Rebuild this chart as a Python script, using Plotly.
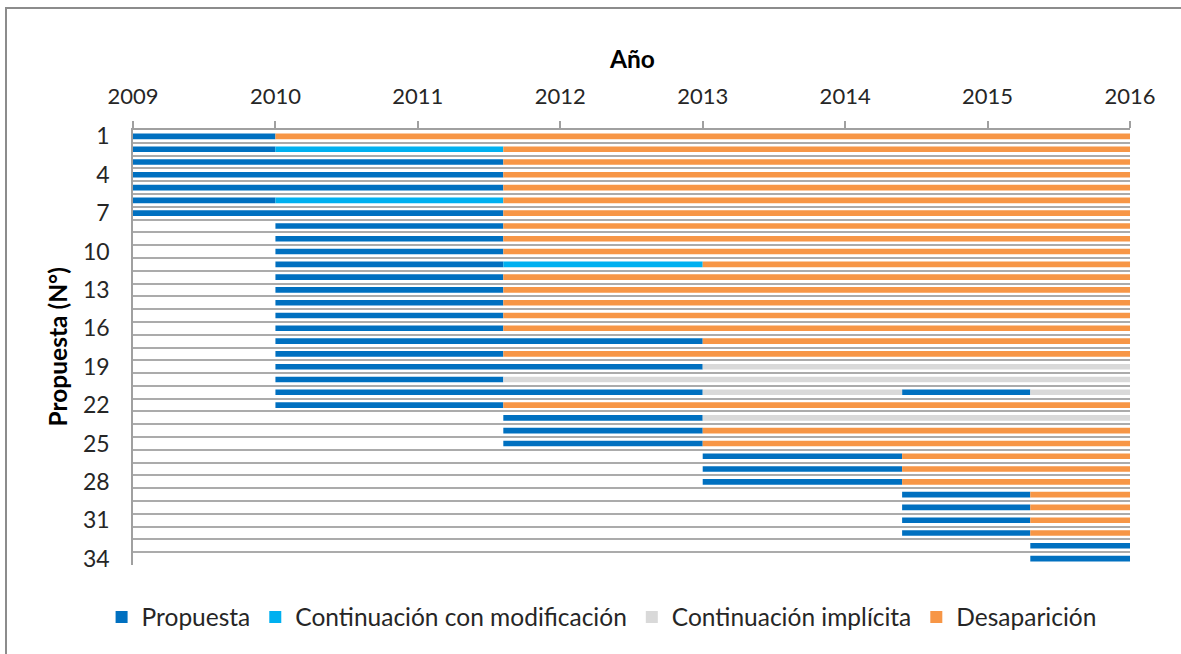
import plotly.graph_objects as go

# ---- Data ----
filas = list(range(1, 35))
anios = [2009, 2010, 2011, 2012, 2013, 2014, 2015, 2016]
filas_etiquetas = list(range(1, 35, 3))

# Propuesta (row, start, end)
prop_fila = [1, 2, 3, 4, 5, 6, 7, 8, 9, 10, 11, 12, 13, 14, 15, 16, 17, 18, 19, 20, 21, 21, 22,
             23, 24, 25, 26, 27, 28, 29, 30, 31, 32, 33, 34]
prop_ini = [2009, 2009, 2009, 2009, 2009, 2009, 2009, 2010, 2010, 2010, 2010, 2010, 2010, 2010, 2010, 2010,
            2010, 2010, 2010, 2010, 2010, 2014.4, 2010,
            2011.6, 2011.6, 2011.6, 2013, 2013, 2013, 2014.4, 2014.4, 2014.4, 2014.4, 2015.3, 2015.3]
prop_fin = [2010, 2010, 2011.6, 2011.6, 2011.6, 2010, 2011.6, 2011.6, 2011.6, 2011.6, 2011.6, 2011.6,
            2011.6, 2011.6, 2011.6, 2011.6, 2013, 2011.6, 2013, 2011.6, 2013, 2015.3, 2011.6,
            2013, 2013, 2013, 2014.4, 2014.4, 2014.4, 2015.3, 2015.3, 2015.3, 2015.3, 2016, 2016]

# Continuación con modificación
mod_fila = [2, 6, 11]
mod_ini = [2010, 2010, 2011.6]
mod_fin = [2011.6, 2011.6, 2013]

# Continuación implícita
imp_fila = [19, 20, 21, 21, 23]
imp_ini = [2013, 2011.6, 2013, 2015.3, 2013]
imp_fin = [2016, 2016, 2014.4, 2016, 2016]

# Desaparición
des_fila = [1, 2, 3, 4, 5, 6, 7, 8, 9, 10, 11, 12, 13, 14, 15, 16, 17, 18, 22,
            24, 25, 26, 27, 28, 29, 30, 31, 32]
des_ini = [2010, 2011.6, 2011.6, 2011.6, 2011.6, 2011.6, 2011.6, 2011.6, 2011.6, 2011.6, 2013,
           2011.6, 2011.6, 2011.6, 2011.6, 2011.6, 2013, 2011.6, 2011.6,
           2013, 2013, 2014.4, 2014.4, 2014.4, 2015.3, 2015.3, 2015.3, 2015.3]
des_fin = [2016] * len(des_fila)

series = [
    ("Propuesta", prop_fila, prop_ini, prop_fin, "#0070C0"),
    ("Continuación con modificación", mod_fila, mod_ini, mod_fin, "#00B0F0"),
    ("Continuación implícita", imp_fila, imp_ini, imp_fin, "#D9D9D9"),
    ("Desaparición", des_fila, des_ini, des_fin, "#F79646"),
]

FONT = "Lato"
W, H = 1181, 654
ML, MR, MT, MB = 133, 51, 130, 89
PW, PH = W - ML - MR, H - MT - MB

fig = go.Figure()
for nombre, fy, fi, ff, col in series:
    fig.add_trace(go.Bar(
        name=nombre,
        y=fy,
        x=[b - a for a, b in zip(fi, ff)],
        base=fi,
        orientation="h",
        width=0.44,
        marker=dict(color=col, line=dict(width=0)),
    ))

def px_x(px):
    return (px - ML) / PW

def px_y(py):
    return 1 - (py - MT) / PH

fig.update_layout(
    width=W, height=H,
    margin=dict(l=ML, r=MR, t=MT, b=MB),
    paper_bgcolor="white", plot_bgcolor="white",
    barmode="overlay",
    font=dict(family=FONT, size=22, color="#262626"),
    showlegend=True,
    legend=dict(orientation="h", x=0.47, xanchor="center", y=px_y(617), yanchor="middle",
                font=dict(size=24.5, family=FONT, color="#262626"), traceorder="normal",
                itemwidth=30, bgcolor="rgba(0,0,0,0)"),
    xaxis=dict(
        side="top", range=[2009, 2016], tickvals=anios, ticktext=[str(a) for a in anios],
        showgrid=False, zeroline=False, showline=True, linecolor="#A0A0A0", linewidth=1.5,
        ticks="outside", ticklen=7, tickcolor="#A0A0A0", tickwidth=1.5,
        tickfont=dict(size=22, family=FONT, color="#262626"), ticklabelstandoff=8,
    ),
    yaxis=dict(
        range=[34.5, 0.5], tickvals=filas_etiquetas, ticktext=[str(v) for v in filas_etiquetas],
        showgrid=False, zeroline=False, showline=True, linecolor="#A0A0A0", linewidth=1.5,
        ticks="", tickfont=dict(size=23, family=FONT, color="#262626"), ticklabelstandoff=17,
        minor=dict(tickvals=[f + 0.5 for f in [0] + filas], showgrid=True,
                   gridcolor="#ABABAB", gridwidth=2, ticks=""),
    ),
    annotations=[
        dict(text="<b>Año</b>", xref="paper", yref="paper", x=0.5, y=px_y(58),
             xanchor="center", yanchor="middle", showarrow=False,
             font=dict(size=24.5, family=FONT, color="#000000")),
        dict(text="<b>Propuesta (N°)</b>", xref="paper", yref="paper", x=px_x(57), y=0.5,
             xanchor="center", yanchor="middle", showarrow=False, textangle=-90,
             font=dict(size=24.5, family=FONT, color="#000000")),
    ],
    shapes=[
        dict(type="rect", xref="paper", yref="paper", x0=px_x(6), x1=px_x(1190),
             y0=px_y(664), y1=px_y(8), line=dict(color="#8C8C8C", width=2),
             fillcolor="rgba(0,0,0,0)", layer="below"),
    ],
)

fig.write_html("out.html", config={"displayModeBar": False},
               post_script="document.body.style.margin='0';document.body.style.overflow='hidden';")
